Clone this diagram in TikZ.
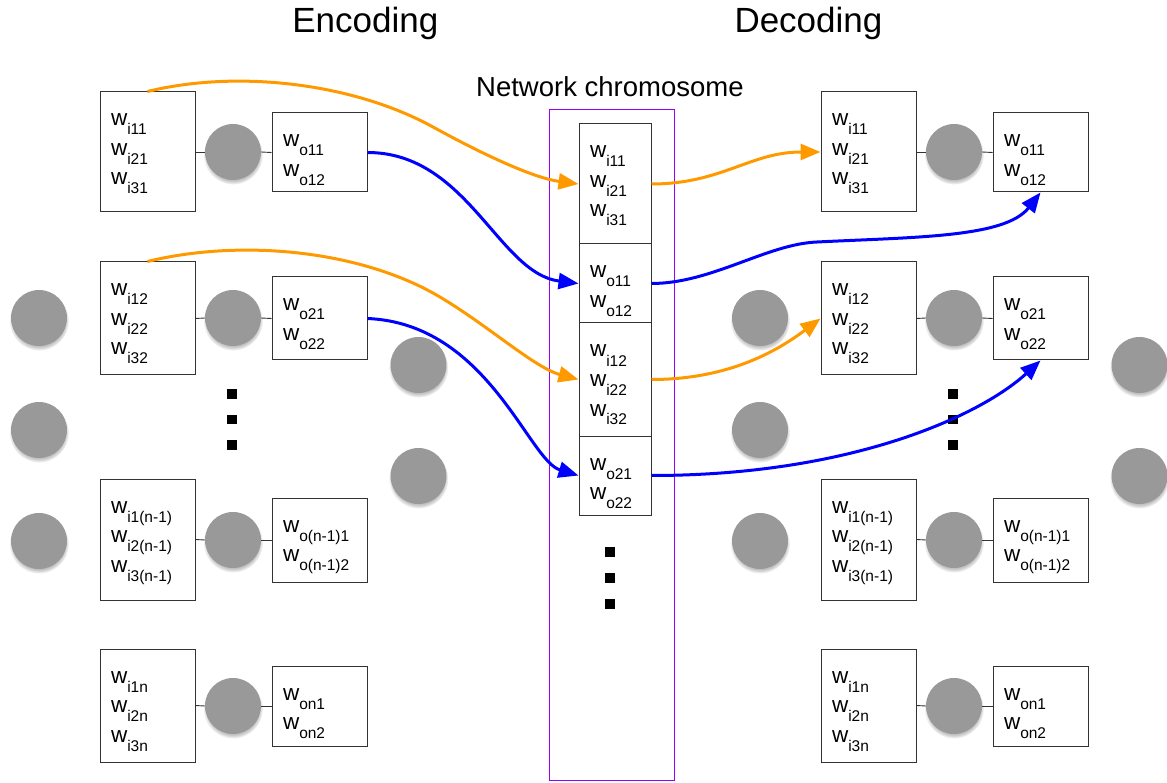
\documentclass[tikz,border=0pt]{standalone}
\usepackage{fontspec}
\setmainfont{Liberation Sans}
\usetikzlibrary{arrows.meta,calc,shadows}

\definecolor{wireorange}{RGB}{255,153,0}
\definecolor{wireblue}{RGB}{0,0,255}
\definecolor{framepurple}{RGB}{153,0,255}
\definecolor{neurongray}{RGB}{153,153,153}
\definecolor{edgegray}{RGB}{51,51,51}

% one weight entry: w with a lowered index
\newcommand\wl[1]{\rule[-12.5pt]{0pt}{29.5pt}w\raisebox{-9pt}{\fontsize{15.5}{15.5}\selectfont #1}}
% fixed-size cell, text set from the top left
\newcommand\wcell[3]{\parbox[c][#2][t]{#1}{\raggedright\leftskip=11pt\relax\vspace*{17pt}#3}}

\tikzset{
  wbox/.style={draw=edgegray, line width=1pt, inner sep=0pt, fill=white,
               font=\fontsize{22.5}{29.5}\selectfont},
  neuron/.style={circle, fill=neurongray, minimum size=56pt, inner sep=0pt,
                 circular drop shadow={shadow xshift=0pt, shadow yshift=-2.5pt,
                                       shadow scale=1.07, opacity=.5}},
  synapse/.style={draw=edgegray, line width=0.9pt},
  dotsq/.style={rectangle, fill=black, minimum size=9.5pt, inner sep=0pt},
  headline/.style={inner sep=0pt, anchor=base west},
  orangewire/.style={draw=wireorange, line width=3pt, -{Triangle[length=20pt,width=16pt]}},
  bluewire/.style={draw=wireblue, line width=3pt, -{Triangle[length=20pt,width=16pt]}},
}

\begin{document}
\begin{tikzpicture}[x=1pt, y=-1pt]
\useasboundingbox (0,0) rectangle (1167,783);

% headings
\node[headline, font=\fontsize{35}{40}\selectfont] (enc) at (292.2,32.3) {Encoding};
\node[headline, font=\fontsize{35}{40}\selectfont] (dec) at (734.3,32.3) {Decoding};
\node[headline, font=\fontsize{27.5}{32}\selectfont] (chromtitle) at (476,96.7) {Network chromosome};

% the two networks (encoding side and decoding side)
\foreach \s/\dx in {L/0, R/721}{
  % first hidden neuron
  \node[wbox] (\s-in1) at (147.5+\dx,152) {\wcell{95pt}{120pt}{\wl{i11}\\\wl{i21}\\\wl{i31}}};
  \node[neuron] (\s-n1) at (233+\dx,152) {};
  \node[wbox] (\s-out1) at (319.5+\dx,152.5) {\wcell{95pt}{79pt}{\wl{o11}\\\wl{o12}}};
  % second hidden neuron
  \node[wbox] (\s-in2) at (147.5+\dx,318.5) {\wcell{95pt}{113pt}{\wl{i12}\\\wl{i22}\\\wl{i32}}};
  \node[neuron] (\s-n2) at (233+\dx,318) {};
  \node[wbox] (\s-out2) at (319.5+\dx,318.5) {\wcell{95pt}{83pt}{\wl{o21}\\\wl{o22}}};
  % neuron n-1
  \node[wbox] (\s-in3) at (147.5+\dx,539.5) {\wcell{95pt}{121pt}{\wl{i1(n-1)}\\\wl{i2(n-1)}\\\wl{i3(n-1)}}};
  \node[neuron] (\s-n3) at (233+\dx,540) {};
  \node[wbox] (\s-out3) at (319.5+\dx,540) {\wcell{95pt}{84pt}{\wl{o(n-1)1}\\\wl{o(n-1)2}}};
  % neuron n
  \node[wbox] (\s-in4) at (147.5+\dx,705.5) {\wcell{95pt}{113pt}{\wl{i1n}\\\wl{i2n}\\\wl{i3n}}};
  \node[neuron] (\s-n4) at (233+\dx,706) {};
  \node[wbox] (\s-out4) at (319.5+\dx,706) {\wcell{95pt}{80pt}{\wl{on1}\\\wl{on2}}};
  % wiring inside each hidden unit
  \foreach \k in {1,2,3,4}{
    \draw[synapse] (\s-in\k.east) -- (\s-n\k.west);
    \draw[synapse] (\s-n\k.east) -- (\s-out\k.west);
  }
  % input neurons
  \node[neuron] (\s-x1) at (39+\dx,318) {};
  \node[neuron] (\s-x2) at (39+\dx,430) {};
  \node[neuron] (\s-x3) at (39+\dx,541) {};
  % output neurons
  \node[neuron] (\s-y1) at (418.5+\dx,365) {};
  \node[neuron] (\s-y2) at (418.5+\dx,476) {};
  % ellipsis between the hidden units
  \node[dotsq] (\s-d1) at (232+\dx,394) {};
  \node[dotsq] (\s-d2) at (232+\dx,419.5) {};
  \node[dotsq] (\s-d3) at (232+\dx,445) {};
}

% chromosome
\node[draw=framepurple, line width=1pt, minimum width=125pt, minimum height=670pt, inner sep=0pt]
  (chrom) at (611.5,445) {};
\node[wbox] (c1) at (615,184) {\wcell{72pt}{120pt}{\wl{i11}\\\wl{i21}\\\wl{i31}}};
\node[wbox] (c2) at (615,283.5) {\wcell{72pt}{79pt}{\wl{o11}\\\wl{o12}}};
\node[wbox] (c3) at (615,379.5) {\wcell{72pt}{113pt}{\wl{i12}\\\wl{i22}\\\wl{i32}}};
\node[wbox] (c4) at (615,475.5) {\wcell{72pt}{79pt}{\wl{o21}\\\wl{o22}}};
\node[dotsq] (cd1) at (610,552) {};
\node[dotsq] (cd2) at (610,578) {};
\node[dotsq] (cd3) at (610,604) {};

% bend points of the long curves
\coordinate (bendA) at (433,127);
\coordinate (bendB) at (433,293);
\coordinate (bendC) at (817,242);

% encoding: weights copied into the chromosome
\draw[orangewire] (L-in1.north)
  .. controls ($(L-in1.north)+(90,-22)$) and ($(bendA)+(-80,-44)$) .. (bendA)
  .. controls ($(bendA)+(50,27.5)$) and ($(c1.west)+(-45,-6)$) .. (c1.west);
\draw[bluewire] (L-out1.east)
  .. controls ($(L-out1.east)+(100,0)$) and ($(c2.west)+(-80,-10)$) .. (c2.west);
\draw[orangewire] (L-in2.north)
  .. controls ($(L-in2.north)+(90,-22)$) and ($(bendB)+(-80,-44)$) .. (bendB)
  .. controls ($(bendB)+(50,28)$) and ($(c3.west)+(-45,-12)$) .. (c3.west);
\draw[bluewire] (L-out2.east)
  .. controls ($(L-out2.east)+(120,5)$) and ($(c4.west)+(-50,-15)$) .. (c4.west);

% decoding: chromosome read back into the network
\draw[orangewire] (c1.east)
  .. controls ($(c1.east)+(70,0)$) and ($(R-in1.west)+(-70,0)$) .. (R-in1.west);
\draw[bluewire] (c2.east)
  .. controls ($(c2.east)+(60,0)$) and ($(bendC)+(-50,2)$) .. (bendC)
  .. controls ($(bendC)+(100,-5)$) and ($(R-out1.south)+(-35,45)$) .. (R-out1.south);
\draw[orangewire] (c3.east)
  .. controls ($(c3.east)+(80,0)$) and ($(R-in2.west)+(-40,30)$) .. (R-in2.west);
\draw[bluewire] (c4.east)
  .. controls ($(c4.east)+(200,0)$) and ($(R-out2.south)+(-60,55)$) .. (R-out2.south);
\end{tikzpicture}
\end{document}
